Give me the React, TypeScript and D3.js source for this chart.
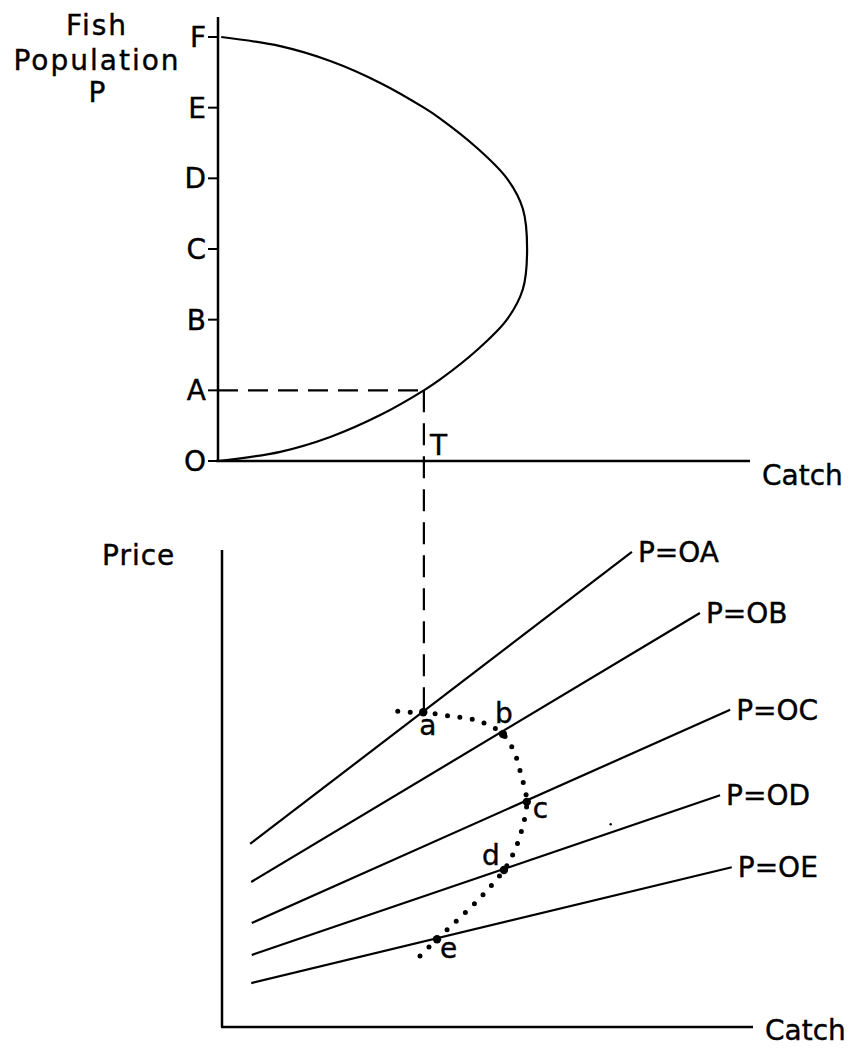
import React from 'react';
import * as d3 from 'd3';

// ---------- Top panel data ----------
const popLevels = ['O', 'A', 'B', 'C', 'D', 'E', 'F'];
// sustainable-yield curve: population level (O=0 ... F=6) and catch
const yieldPop = [0, 0.13, 0.34, 0.65, 1.0, 1.15, 1.57, 2.0, 2.43, 3.0, 3.57, 4.0, 4.43, 4.85, 5.0, 5.35, 5.66, 5.87, 6.0];
const yieldCatch = [0, 11.7, 21.1, 30.5, 38.7, 41.7, 48.7, 54.3, 57.3, 58.1, 57.3, 54.3, 48.7, 41.7, 38.7, 30.5, 21.1, 11.7, 0.6];
const tPop = 1.0;
const tCatch = 38.7;

// ---------- Bottom panel data ----------
const priceLabels = ['P=OA', 'P=OB', 'P=OC', 'P=OD', 'P=OE'];
const lineStartCatch = [5.3, 5.5, 5.6, 5.6, 5.5];
const lineStartPrice = [38.4, 30.4, 21.8, 15.1, 9.2];
const lineEndCatch = [77.2, 90.0, 95.7, 93.8, 96.0];
const lineEndPrice = [99.6, 86.8, 66.5, 48.6, 33.5];

const eqNames = ['a', 'b', 'c', 'd', 'e'];
const eqCatch = [37.9, 52.9, 57.4, 53.1, 40.5];
const eqPrice = [66.0, 61.4, 47.2, 32.9, 18.4];

// dotted supply curve through the equilibrium points
const supplyCatch = [33.1, 35.4, 37.9, 42.9, 48.2, 52.9, 55.0, 56.3, 57.4, 56.5, 55.0, 53.1, 48.2, 40.5, 37.1];
const supplyPrice = [66.2, 66.0, 66.0, 65.2, 64.2, 61.4, 57.7, 53.0, 47.2, 41.5, 36.7, 32.9, 26.6, 18.4, 14.7];

const FONT = '"DejaVu Sans", sans-serif';
const FS = 28;
const eqLabelOffsets = [
  [-4, 23],
  [-8, -11],
  [6, 16],
  [-22, -5],
  [3, 19],
];

export default function App() {
  // scales
  const xT = d3.scaleLinear().domain([0, 100]).range([218, 750]);
  const yT = d3.scaleLinear().domain([0, 6]).range([461, 37]);
  const xB = d3.scaleLinear().domain([0, 100]).range([222, 753]);
  const yB = d3.scaleLinear().domain([0, 100]).range([1027, 550]);

  const yieldPts = yieldPop.map((p, i) => [yieldCatch[i], p] as [number, number]);
  const yieldLine = d3
    .line<[number, number]>()
    .x((d) => xT(d[0]))
    .y((d) => yT(d[1]))
    .curve(d3.curveCatmullRom.alpha(0.5));

  const supplyPts = supplyCatch.map((c, i) => [c, supplyPrice[i]] as [number, number]);
  const supplyLine = d3
    .line<[number, number]>()
    .x((d) => xB(d[0]))
    .y((d) => yB(d[1]))
    .curve(d3.curveCatmullRom.alpha(0.5));

  const tx = xT(tCatch);
  const ty = yT(tPop);
  const ay = yB(eqPrice[0]);

  const textProps = { fontSize: FS, stroke: '#000', strokeWidth: 0.4 };

  return (
    <svg
      width={853}
      height={1050}
      style={{ position: 'absolute', left: 0, top: 0, background: '#fff' }}
      fontFamily={FONT}
    >
      <rect x={0} y={0} width={853} height={1050} fill="#fff" />
      {/* ---------- Top panel ---------- */}
      <text x={97} y={35} {...textProps} textAnchor="middle" letterSpacing={2}>Fish</text>
      <text x={97} y={70} {...textProps} textAnchor="middle" letterSpacing={2}>Population</text>
      <text x={97} y={102} {...textProps} textAnchor="middle">P</text>

      <line x1={xT(0)} x2={xT(0)} y1={17} y2={yT(0)} stroke="#000" strokeWidth={2.5} />
      <line x1={xT(0) - 2} x2={xT(100)} y1={yT(0)} y2={yT(0)} stroke="#000" strokeWidth={2.5} />
      <text x={762} y={485} {...textProps}>Catch</text>

      {popLevels.map((lab, i) => (
        <g key={lab}>
          <line x1={xT(0) - 10} x2={xT(0)} y1={yT(i)} y2={yT(i)} stroke="#000" strokeWidth={2} />
          <text x={xT(0) - 12} y={yT(i) + 10} {...textProps} textAnchor="end">{lab}</text>
        </g>
      ))}

      <path d={yieldLine(yieldPts) || ''} fill="none" stroke="#000" strokeWidth={2.2} />

      {/* dashed projection */}
      <line x1={xT(0)} x2={tx} y1={ty} y2={ty} stroke="#000" strokeWidth={2.2} strokeDasharray="20 10" />
      <line x1={tx} x2={tx} y1={ty} y2={ay} stroke="#000" strokeWidth={2.2} strokeDasharray="22 11" />
      <text x={tx + 6} y={455} {...textProps}>T</text>

      {/* ---------- Bottom panel ---------- */}
      <text x={102} y={565} {...textProps} letterSpacing={1}>Price</text>
      <line x1={xB(0)} x2={xB(0)} y1={yB(100)} y2={yB(0)} stroke="#000" strokeWidth={2.5} />
      <line x1={xB(0) - 1} x2={xB(100)} y1={yB(0)} y2={yB(0)} stroke="#000" strokeWidth={2.5} />
      <text x={765} y={1040} {...textProps}>Catch</text>

      {priceLabels.map((lab, i) => {
        const x1 = xB(lineStartCatch[i]);
        const y1 = yB(lineStartPrice[i]);
        const x2 = xB(lineEndCatch[i]);
        const y2 = yB(lineEndPrice[i]);
        return (
          <g key={lab}>
            <line x1={x1} y1={y1} x2={x2} y2={y2} stroke="#000" strokeWidth={2.2} />
            <text x={x2 + 6} y={y2 + 10} {...textProps}>{lab}</text>
          </g>
        );
      })}

      <path
        d={supplyLine(supplyPts) || ''}
        fill="none"
        stroke="#000"
        strokeWidth={5}
        strokeLinecap="round"
        strokeDasharray="0 12.5"
      />

      {eqNames.map((n, i) => {
        const x = xB(eqCatch[i]);
        const y = yB(eqPrice[i]);
        return (
          <g key={n}>
            <circle cx={x} cy={y} r={4.2} fill="#000" />
            <text x={x + eqLabelOffsets[i][0]} y={y + eqLabelOffsets[i][1]} {...textProps}>{n}</text>
          </g>
        );
      })}
      {/* small stray mark in the original scan */}
      <circle cx={xB(73.2)} cy={yB(42.5)} r={1.2} fill="#000" />
    </svg>
  );
}
